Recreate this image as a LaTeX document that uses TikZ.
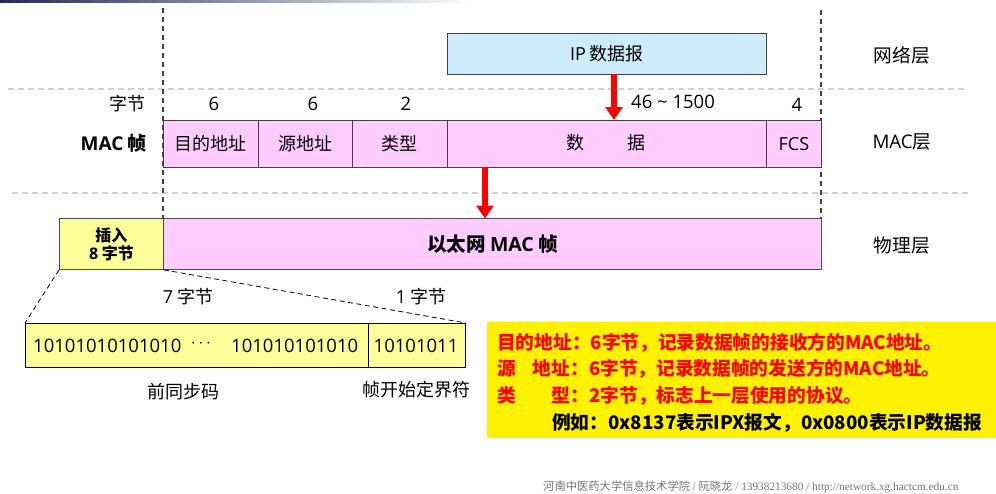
\documentclass[tikz,border=0pt]{standalone}
\usepackage{fontspec}
\setmainfont{Noto Sans CJK SC}
\newfontfamily\lat{Open Sans}
\newfontfamily\footserif{Liberation Serif}
\usetikzlibrary{arrows.meta}
\definecolor{ipblue}{HTML}{CCEBFB}
\definecolor{macpink}{HTML}{FFCCFF}
\definecolor{preyel}{HTML}{FFFF99}
\definecolor{navy}{HTML}{1F2A5C}
\tikzset{
  field/.style={draw=black!75, line width=0.9pt, fill=macpink, minimum height=47pt, inner sep=0pt, font=\fontsize{18}{18}\selectfont},
  lbl/.style={font=\fontsize{18}{18}\selectfont, inner sep=0pt},
  num/.style={font=\fontsize{18.5}{18.5}\selectfont\lat, inner sep=0pt},
  layerline/.style={draw=black!18, line width=1.6pt, dash pattern=on 6pt off 4pt},
  vdash/.style={draw=black!75, line width=1.1pt, dash pattern=on 5pt off 4pt},
  zoomline/.style={draw=black, line width=0.8pt, dash pattern=on 5pt off 3.5pt},
  redarrow/.style={draw=red, line width=6pt, -{Triangle[length=13pt,width=17pt]}},
  note/.style={font=\fontsize{18.7}{18.7}\selectfont\bfseries, inner sep=0pt, anchor=west}
}
\begin{document}
\begin{tikzpicture}[x=1pt,y=-1pt]
\useasboundingbox (0,0) rectangle (996,493);
% top gradient bar
\shade[left color=navy, right color=white] (0,0) rectangle (476,2.2);
% layer separators
\draw[layerline] (8,89) -- (967,89);
\draw[layerline] (12,193) -- (970,193);
% vertical dashed lines
\coordinate (vl1) at (163,8);
\coordinate (vl2) at (163,220);
\coordinate (vr1) at (821,10);
\coordinate (vr2) at (821,220);
\draw[vdash] (vl1) -- (vl2);
\draw[vdash] (vr1) -- (vr2);
% IP datagram
\node[draw=black!75, line width=0.9pt, fill=ipblue, minimum width=319pt, minimum height=41pt, inner sep=0pt, font=\fontsize{18}{18}\selectfont, anchor=north west] (ip) at (447,33) {{\lat IP} 数据报};
\node[lbl, font=\fontsize{18.7}{18.7}\selectfont] (netl) at (902,55) {网络层};
% byte counts
\node[lbl, anchor=east] (zj) at (146,104) {字节};
\node[num] (n1) at (214,104) {6};
\node[num] (n2) at (313,104) {6};
\node[num] (n3) at (406,104) {2};
\node[num] (n4) at (673,102) {46 \textasciitilde{} 1500};
\node[num] (n5) at (797,105) {4};
% MAC frame fields
\node[field, minimum width=95pt, anchor=north west] (dst) at (163,120) {目的地址};
\node[field, minimum width=94pt, anchor=north west] (src) at (258,120) {源地址};
\node[field, minimum width=95pt, anchor=north west] (typ) at (352,120) {类型};
\node[field, minimum width=319pt, anchor=north west] (dat) at (447,120) {};
\node[field, minimum width=55pt, anchor=north west] (fcs) at (766,120) {\lat FCS};
\node[lbl] (d1) at (575,143) {数};
\node[lbl] (d2) at (636,143) {据};
\node[inner sep=0pt, anchor=east, font=\fontsize{19}{19}\selectfont\bfseries] (macf) at (147,143) {{\lat MAC} 帧};
\node[lbl, font=\fontsize{18.7}{18.7}\selectfont] (macl) at (902,142) {{\lat MAC}层};
% arrows
\coordinate (a1s) at (614,74);
\coordinate (a1e) at (614,120);
\draw[redarrow] (a1s) -- (a1e);
\coordinate (a2s) at (485,167);
\coordinate (a2e) at (485,218.5);
\draw[redarrow] (a2s) -- (a2e);
% physical layer frame
\node[draw=black!70, line width=0.9pt, fill=preyel, minimum width=104pt, minimum height=51pt, inner sep=0pt, anchor=north west, align=center, font=\fontsize{16}{18}\selectfont\bfseries] (ins) at (59,218) {插入\\{\lat 8} 字节};
\node[draw=black!70, line width=0.9pt, fill=macpink, minimum width=658pt, minimum height=51pt, inner sep=0pt, anchor=north west, font=\fontsize{19.5}{19.5}\selectfont\bfseries] (eth) at (163,218) {以太网 {\lat MAC} 帧};
\node[lbl, font=\fontsize{18.7}{18.7}\selectfont] (phyl) at (902,245) {物理层};
% preamble
\node[draw=black, line width=0.9pt, fill=preyel, minimum width=343pt, minimum height=44pt, inner sep=0pt, anchor=north west] (pre) at (25,323) {};
\node[draw=black, line width=0.9pt, fill=preyel, minimum width=97pt, minimum height=44pt, inner sep=0pt, anchor=north west] (sfd) at (368,323) {};
\node[num, anchor=west] (bits1) at (33,346) {10101010101010};
\node[lbl] (dots) at (201,344) {$\cdots$};
\node[num, anchor=west] (bits2) at (231,346) {101010101010};
\node[num] (bits3) at (416,346) {10101011};
\draw[zoomline] (ins.south west) -- (pre.north west);
\draw[zoomline] (ins.south east) -- (sfd.north east);
\node[lbl] (b7) at (188,297) {{\lat 7} 字节};
\node[lbl] (b1) at (421,297) {{\lat 1} 字节};
\node[lbl] (prel) at (183,392) {前同步码};
\node[lbl] (sfdl) at (416,390) {帧开始定界符};
% note box
\fill[yellow] (487,322) rectangle (996,438);
\node[note, text=red] (t1) at (497,343) {目的地址：6字节，记录数据帧的接收方的MAC地址。};
\node[note, text=red] (t2) at (497,369) {源\hspace{17pt}地址：6字节，记录数据帧的发送方的MAC地址。};
\node[note, text=red] (t3) at (497,396) {类\hspace{36pt}型：2字节，标志上一层使用的协议。};
\node[note, text=black] (t4) at (552,423) {例如：0x8137表示IPX报文，0x0800表示IP数据报};
% footer
\node[anchor=west, inner sep=0pt, text=black!55, font=\fontsize{11.3}{11.3}\selectfont] (foot) at (543,487) {河南中医药大学信息技术学院 {\footserif / }阮晓龙{\footserif{} / 13938213680 / http://network.xg.hactcm.edu.cn}};
\end{tikzpicture}
\end{document}
